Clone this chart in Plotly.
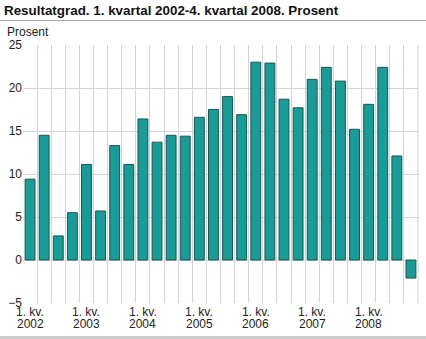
import plotly.graph_objects as go

years = [2002, 2003, 2004, 2005, 2006, 2007, 2008]
quarters = [f"{y}K{q}" for y in years for q in range(1, 5)]
values = [9.4, 14.5, 2.8, 5.5, 11.1, 5.7, 13.3, 11.1,
          16.4, 13.7, 14.5, 14.4, 16.6, 17.5, 19.0, 16.9,
          23.0, 22.9, 18.7, 17.7, 21.0, 22.4, 20.8, 15.2,
          18.1, 22.4, 12.1, -2.1]
quarter_label = "1. kv."
y_ticks = [-5, 0, 5, 10, 15, 20, 25]

fig = go.Figure(go.Bar(
    x=quarters, y=values,
    marker=dict(color="#179c98", line=dict(color="#1d5553", width=1)),
))

W, H = 426, 339
L, R, T, B = 23, 8, 45, 36
pw, ph = W - L - R, H - T - B

def px_x(px):
    return (px - L) / pw

def px_y(py):
    return (H - B - py) / ph

annotations = [dict(text="Prosent", xref="paper", yref="paper", x=0, y=px_y(32),
                    xshift=-18, xanchor="left", yanchor="middle", showarrow=False,
                    font=dict(size=12, color="#222"))]
for y in years:
    annotations.append(dict(text=quarter_label, xref="x", yref="paper", x=f"{y}K1",
                            y=px_y(312), xanchor="center", yanchor="middle",
                            showarrow=False, font=dict(size=12, color="#222")))
    annotations.append(dict(text=str(y), xref="x", yref="paper", x=f"{y}K1",
                            y=px_y(324), xanchor="center", yanchor="middle",
                            showarrow=False, font=dict(size=12, color="#222")))

fig.update_layout(
    width=W, height=H,
    margin=dict(l=L, r=R, t=T, b=B, autoexpand=False),
    paper_bgcolor="white", plot_bgcolor="white",
    bargap=0.3,
    showlegend=False,
    font=dict(family="Liberation Sans, Arial, sans-serif", size=12, color="#222"),
    title=dict(text="<b>Resultatgrad. 1. kvartal 2002-4. kvartal 2008. Prosent</b>",
               xref="container", yref="container", x=4 / W, xanchor="left",
               y=1 - 10 / H, yanchor="middle",
               font=dict(size=13.4, color="#111")),
    xaxis=dict(type="category", tickmode="array", tickvals=quarters,
               ticktext=[""] * len(quarters),
               tickson="boundaries", showgrid=True, gridcolor="#d3d3dc", gridwidth=1,
               ticks="", showticklabels=True, automargin=False,
               showline=False, range=[-0.5, len(quarters) - 0.5]),
    yaxis=dict(range=[-5, 25], tickvals=y_ticks, showgrid=True, gridcolor="#d3d3dc",
               gridwidth=1, zeroline=False, ticks="", ticklen=0, automargin=False,
               tickfont=dict(size=12, color="#222")),
    annotations=annotations,
    shapes=[
        dict(type="line", xref="paper", yref="paper", x0=px_x(0), x1=px_x(W),
             y0=px_y(20.5), y1=px_y(20.5), line=dict(color="#a8a8a8", width=1)),
        dict(type="line", xref="paper", yref="paper", x0=px_x(0), x1=px_x(W),
             y0=px_y(337.5), y1=px_y(337.5), line=dict(color="#cccccc", width=3)),
        dict(type="line", xref="paper", yref="paper", x0=1, x1=1, y0=0, y1=1,
             line=dict(color="#d3d3dc", width=1)),
    ],
)

fig.write_html("out.html")
